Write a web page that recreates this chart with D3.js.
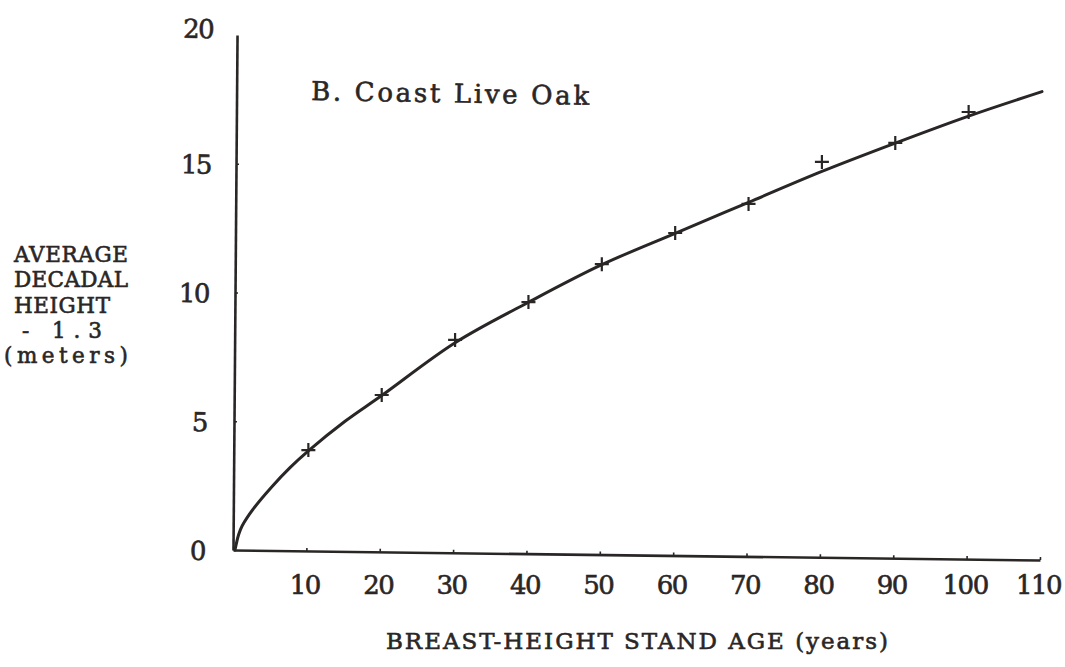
<!DOCTYPE html>
<html>
<head>
<meta charset="utf-8">
<script src="https://cdn.jsdelivr.net/npm/d3@7"></script>
<style>
  html, body { margin: 0; padding: 0; background: #ffffff; }
  svg { display: block; }
  text { font-family: "DejaVu Serif", "Liberation Serif", serif; fill: #2a2626; stroke: #2a2626; stroke-width: 0.6px; }
</style>
</head>
<body>
<svg id="chart" width="1065" height="667"></svg>
<script>
// Observed decadal heights (height minus 1.3 m) by breast-height stand age
const sampleAges    = [10, 20, 30, 40, 50, 60, 70, 80, 90, 100];
const sampleHeights = [3.88, 6.02, 8.16, 9.63, 11.1, 12.31, 13.44, 15.07, 15.81, 17.01];

// Fitted growth curve, read at selected ages
const curveAges    = [0, 0.5, 1, 2.5, 5, 7.5, 10, 15, 20, 30, 40, 50, 60, 70, 80, 90, 100, 110];
const curveHeights = [0, 0.6, 0.95, 1.6, 2.45, 3.2, 3.85, 5.0, 6.0, 8.05, 9.62, 11.08, 12.3, 13.5, 14.7, 15.8, 16.85, 17.8];

// Axis ticks and labels
const xTicks = [10, 20, 30, 40, 50, 60, 70, 80, 90, 100, 110];
const yTicks = [0, 5, 10, 15, 20];
const yTitleLines = ["AVERAGE", "DECADAL", "HEIGHT", "- 1.3", "(meters)"];
const xTitle = "BREAST-HEIGHT STAND AGE (years)";
const panelTitle = "B. Coast Live Oak";

const ink = "#2a2626";
const svg = d3.select("#chart");

const x = d3.scaleLinear().domain([0, 110]).range([235, 1042]);
const y = d3.scaleLinear().domain([0, 20]).range([550, 35]);

const x0 = x(0), y0 = y(0);

// Axis lines (hand-ruled, slightly off square)
const xAxisLine = svg.append("g")
  .attr("transform", `translate(-2,${y0}) rotate(0.71 ${x0} 0)`)
  .call(d3.axisBottom(x).tickValues(xTicks).tickSize(-3).tickSizeOuter(0).tickFormat(""));
xAxisLine.select(".domain").attr("stroke", ink).attr("stroke-width", 2.6);
xAxisLine.selectAll(".tick line").attr("stroke", ink).attr("stroke-width", 1.6);

const yAxisLine = svg.append("g")
  .attr("transform", `translate(${x0 - 2},0) rotate(0.45 0 ${y0})`)
  .call(d3.axisLeft(y).tickValues([5, 10, 15]).tickSize(-3).tickSizeOuter(0).tickFormat(""));
yAxisLine.select(".domain").attr("stroke", ink).attr("stroke-width", 2.6);
yAxisLine.selectAll(".tick line").attr("stroke", ink).attr("stroke-width", 1.6);

const numberFont = "'DejaVu Serif', serif";

// Tick labels
const xLabels = svg.append("g")
  .attr("transform", `translate(-4,${y0 + 44})`)
  .call(d3.axisBottom(x).tickValues(xTicks).tickSize(0).tickPadding(0).tickFormat(d3.format("d")));
xLabels.select(".domain").remove();
xLabels.selectAll("text")
  .attr("font-size", 26).attr("letter-spacing", "-1.5px")
  .attr("dy", 0).attr("fill", ink)
  .style("font-family", numberFont);

const yLabels = svg.append("g")
  .attr("transform", `translate(205,0) rotate(0.9 0 ${y0})`)
  .call(d3.axisLeft(y).tickValues(yTicks).tickSize(0).tickPadding(0).tickFormat(d3.format("d")));
yLabels.select(".domain").remove();
yLabels.selectAll("text")
  .attr("font-size", 26).attr("letter-spacing", "-1.5px")
  .attr("dy", "0.36em").attr("fill", ink)
  .style("font-family", numberFont);
yLabels.selectAll(".tick").filter(d => d === 20).select("text").attr("dy", "0.1em");

// Fitted curve
const line = d3.line()
  .x((d, i) => x(curveAges[i]))
  .y(d => y(d))
  .curve(d3.curveCatmullRom.alpha(0.5));

svg.append("path")
  .datum(curveHeights)
  .attr("d", line)
  .attr("fill", "none")
  .attr("stroke", ink)
  .attr("stroke-width", 3)
  .attr("stroke-linejoin", "round")
  .attr("stroke-linecap", "round");

// Observed points as plus signs
const arm = 7;
svg.append("g").selectAll("path")
  .data(sampleAges.map((a, i) => [a, sampleHeights[i]]))
  .join("path")
  .attr("d", d => {
    const cx = x(d[0]), cy = y(d[1]);
    return `M${cx - arm},${cy}h${2 * arm}M${cx},${cy - arm}v${2 * arm}`;
  })
  .attr("stroke", ink)
  .attr("stroke-width", 2.2);

// Panel title
svg.append("text")
  .attr("x", 311).attr("y", 100)
  .attr("transform", "rotate(1 311 100)")
  .attr("font-size", 26)
  .attr("textLength", 278).attr("lengthAdjust", "spacing")
  .text(panelTitle);

// Y axis title, typed in lines
const yTitleX = [14, 14, 14, 22, 4];
const yTitleW = [114, 114, 96, 80, 124];
svg.append("g").selectAll("text")
  .data(yTitleLines)
  .join("text")
  .attr("x", (d, i) => yTitleX[i])
  .attr("y", (d, i) => 262 + i * 25.3)
  .attr("font-size", 21.5)
  .attr("textLength", (d, i) => yTitleW[i])
  .attr("lengthAdjust", "spacing")
  .attr("xml:space", "preserve")
  .style("white-space", "pre")
  .text(d => d);

// X axis title
svg.append("text")
  .attr("x", 386).attr("y", 649)
  .attr("font-size", 23)
  .attr("textLength", 502).attr("lengthAdjust", "spacing")
  .text(xTitle);
</script>
</body>
</html>
